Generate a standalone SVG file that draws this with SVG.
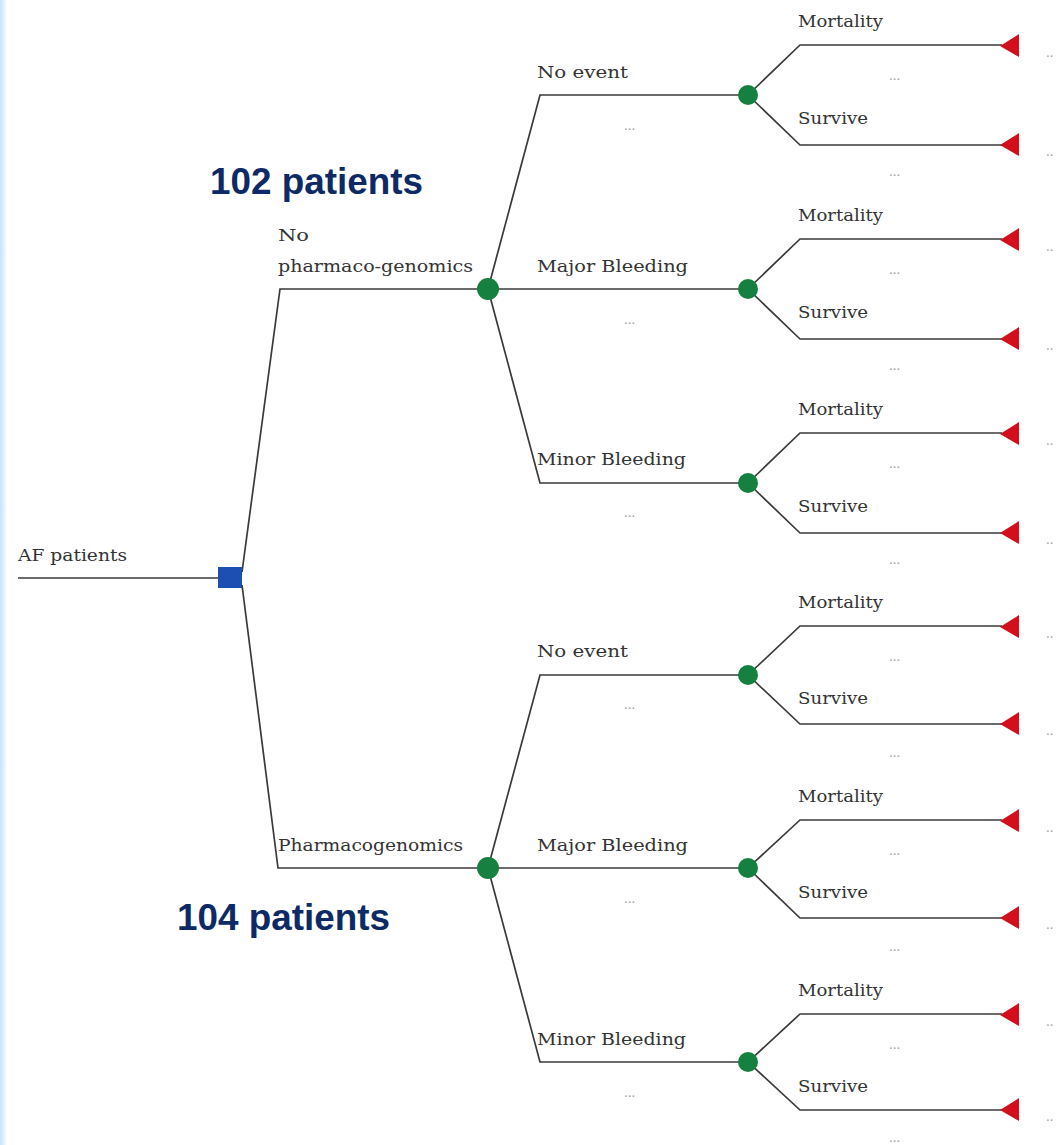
<svg xmlns="http://www.w3.org/2000/svg" width="1060" height="1145" viewBox="0 0 1060 1145">
<defs>
<linearGradient id="edge" x1="0" y1="0" x2="1" y2="0">
<stop offset="0" stop-color="#c7e3fb"/>
<stop offset="1" stop-color="#eef7fe"/>
</linearGradient>
<g id="term"><polygon points="0,0 19,-12 19,11" fill="#d40f1c"/></g>
</defs>
<style>
.ln{stroke:#3a3a3a;stroke-width:1.7;fill:none}
.t{font-family:"DejaVu Serif","Liberation Serif",serif;font-size:16.5px;fill:#333}
.d{font-family:"Liberation Serif","Times New Roman",serif;font-size:15px;fill:#a8a8a8}
.big{font-family:"Liberation Sans",Arial,sans-serif;font-size:36px;font-weight:bold;fill:#0d2a66}
.ch{fill:#15803f}
</style>
<rect width="1060" height="1145" fill="#ffffff"/>
<rect x="0" y="0" width="6" height="1145" fill="url(#edge)"/>

<g id="connectors">
<path class="ln" d="M18,578 H220"/>
<path class="ln" d="M242,572 L280,289 H488"/>
<path class="ln" d="M242,585 L278,868 H488"/>
<path class="ln" d="M488,289 L540,95 H748"/>
<path class="ln" d="M488,289 H748"/>
<path class="ln" d="M488,289 L540,483 H748"/>
<path class="ln" d="M488,868 L540,675 H748"/>
<path class="ln" d="M488,868 H748"/>
<path class="ln" d="M488,868 L540,1062 H748"/>
<path class="ln" d="M748,95 L800,45 H1002 M748,95 L800,145 H1002"/>
<path class="ln" d="M748,289 L800,239 H1002 M748,289 L800,339 H1002"/>
<path class="ln" d="M748,483 L800,433 H1002 M748,483 L800,533 H1002"/>
<path class="ln" d="M748,675 L800,626 H1002 M748,675 L800,724 H1002"/>
<path class="ln" d="M748,868 L800,820 H1002 M748,868 L800,918 H1002"/>
<path class="ln" d="M748,1062 L800,1014 H1002 M748,1062 L800,1110 H1002"/>
</g>

<g id="root"><text class="t" x="18" y="561" textLength="109" lengthAdjust="spacingAndGlyphs">AF patients</text></g>
<g id="decision"><rect x="218" y="567" width="24" height="21" fill="#1d4fb3"/></g>

<g id="label102"><text class="big" x="210" y="194" textLength="213" lengthAdjust="spacingAndGlyphs">102 patients</text></g>
<g id="label104"><text class="big" x="177" y="930" textLength="213" lengthAdjust="spacingAndGlyphs">104 patients</text></g>

<g id="branch-nopgx">
<text class="t" x="278" y="241" textLength="31" lengthAdjust="spacingAndGlyphs">No</text>
<text class="t" x="278" y="272" textLength="195" lengthAdjust="spacingAndGlyphs">pharmaco-genomics</text>
<circle class="ch" cx="488" cy="289" r="11"/>
</g>
<g id="branch-pgx">
<text class="t" x="278" y="851" textLength="185" lengthAdjust="spacingAndGlyphs">Pharmacogenomics</text>
<circle class="ch" cx="488" cy="868" r="11"/>
</g>

<g id="ev1"><text class="t" x="537" y="78" textLength="91" lengthAdjust="spacingAndGlyphs">No event</text><text class="d" x="624" y="130">...</text><circle class="ch" cx="748" cy="95" r="10"/></g>
<g id="ev2"><text class="t" x="537" y="272" textLength="151" lengthAdjust="spacingAndGlyphs">Major Bleeding</text><text class="d" x="624" y="324">...</text><circle class="ch" cx="748" cy="289" r="10"/></g>
<g id="ev3"><text class="t" x="537" y="465" textLength="149" lengthAdjust="spacingAndGlyphs">Minor Bleeding</text><text class="d" x="624" y="517">...</text><circle class="ch" cx="748" cy="483" r="10"/></g>
<g id="ev4"><text class="t" x="537" y="657" textLength="91" lengthAdjust="spacingAndGlyphs">No event</text><text class="d" x="624" y="709">...</text><circle class="ch" cx="748" cy="675" r="10"/></g>
<g id="ev5"><text class="t" x="537" y="851" textLength="151" lengthAdjust="spacingAndGlyphs">Major Bleeding</text><text class="d" x="624" y="903">...</text><circle class="ch" cx="748" cy="868" r="10"/></g>
<g id="ev6"><text class="t" x="537" y="1045" textLength="149" lengthAdjust="spacingAndGlyphs">Minor Bleeding</text><text class="d" x="624" y="1097">...</text><circle class="ch" cx="748" cy="1062" r="10"/></g>

<g id="out1">
<text class="t" x="798" y="27" textLength="85" lengthAdjust="spacingAndGlyphs">Mortality</text><text class="d" x="889" y="80">...</text>
<text class="t" x="798" y="124" textLength="70" lengthAdjust="spacingAndGlyphs">Survive</text><text class="d" x="889" y="176">...</text>
<use href="#term" x="1000" y="46"/><use href="#term" x="1000" y="145"/>
<text class="d" x="1046" y="57">..</text><text class="d" x="1046" y="156">..</text>
</g>
<g id="out2">
<text class="t" x="798" y="221" textLength="85" lengthAdjust="spacingAndGlyphs">Mortality</text><text class="d" x="889" y="274">...</text>
<text class="t" x="798" y="318" textLength="70" lengthAdjust="spacingAndGlyphs">Survive</text><text class="d" x="889" y="370">...</text>
<use href="#term" x="1000" y="240"/><use href="#term" x="1000" y="339"/>
<text class="d" x="1046" y="251">..</text><text class="d" x="1046" y="350">..</text>
</g>
<g id="out3">
<text class="t" x="798" y="415" textLength="85" lengthAdjust="spacingAndGlyphs">Mortality</text><text class="d" x="889" y="468">...</text>
<text class="t" x="798" y="512" textLength="70" lengthAdjust="spacingAndGlyphs">Survive</text><text class="d" x="889" y="564">...</text>
<use href="#term" x="1000" y="434"/><use href="#term" x="1000" y="533"/>
<text class="d" x="1046" y="445">..</text><text class="d" x="1046" y="544">..</text>
</g>
<g id="out4">
<text class="t" x="798" y="608" textLength="85" lengthAdjust="spacingAndGlyphs">Mortality</text><text class="d" x="889" y="661">...</text>
<text class="t" x="798" y="704" textLength="70" lengthAdjust="spacingAndGlyphs">Survive</text><text class="d" x="889" y="757">...</text>
<use href="#term" x="1000" y="627"/><use href="#term" x="1000" y="724"/>
<text class="d" x="1046" y="638">..</text><text class="d" x="1046" y="735">..</text>
</g>
<g id="out5">
<text class="t" x="798" y="802" textLength="85" lengthAdjust="spacingAndGlyphs">Mortality</text><text class="d" x="889" y="855">...</text>
<text class="t" x="798" y="898" textLength="70" lengthAdjust="spacingAndGlyphs">Survive</text><text class="d" x="889" y="951">...</text>
<use href="#term" x="1000" y="821"/><use href="#term" x="1000" y="918"/>
<text class="d" x="1046" y="832">..</text><text class="d" x="1046" y="929">..</text>
</g>
<g id="out6">
<text class="t" x="798" y="996" textLength="85" lengthAdjust="spacingAndGlyphs">Mortality</text><text class="d" x="889" y="1049">...</text>
<text class="t" x="798" y="1092" textLength="70" lengthAdjust="spacingAndGlyphs">Survive</text><text class="d" x="889" y="1142">...</text>
<use href="#term" x="1000" y="1015"/><use href="#term" x="1000" y="1110"/>
<text class="d" x="1046" y="1026">..</text><text class="d" x="1046" y="1121">..</text>
</g>
</svg>
